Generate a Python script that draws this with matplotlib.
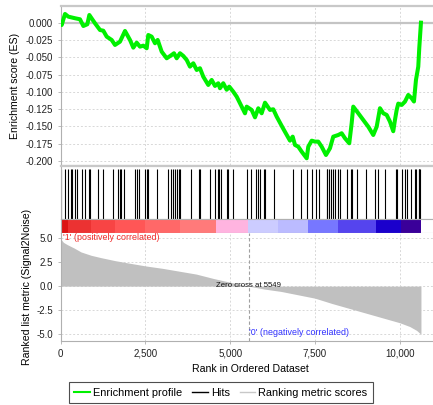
import matplotlib
matplotlib.use("Agg")
import matplotlib.pyplot as plt
from matplotlib.lines import Line2D
from matplotlib.ticker import FuncFormatter

plt.rcParams['font.family'] = ['Liberation Sans', 'DejaVu Sans']

# running enrichment score (rank, ES)
es_rank = [0, 29, 127, 225, 422, 569, 668, 786, 845, 1012, 1159, 1257, 1357, 1504,
           1602, 1749, 1897, 2044, 2142, 2242, 2339, 2437, 2537, 2584, 2684, 2782,
           2861, 2979, 3127, 3274, 3342, 3422, 3519, 3617, 3717, 3814, 3912, 4012,
           4109, 4206, 4354, 4454, 4552, 4649, 4699, 4796, 4897, 4973, 5091, 5192,
           5339, 5437, 5487, 5634, 5732, 5829, 5929, 6027, 6174, 6271, 6372, 6566,
           6764, 6844, 6912, 7009, 7109, 7257, 7304, 7404, 7501, 7599, 7699, 7826,
           7944, 8041, 8189, 8289, 8386, 8513, 8584, 8631, 8779, 8926, 9074, 9221,
           9322, 9419, 9516, 9617, 9714, 9811, 9861, 9912, 9959, 10059, 10156,
           10254, 10354, 10422, 10481, 10549, 10578, 10628]
es_value = [0.0, -0.0034, 0.0126, 0.0087, 0.0064, 0.0049, -0.0048, -0.0023, 0.0111,
            -0.0009, -0.0106, -0.0116, -0.0202, -0.025, -0.0322, -0.0275, -0.012,
            -0.025, -0.0361, -0.0289, -0.0347, -0.0332, -0.037, -0.0178, -0.0202,
            -0.0298, -0.025, -0.0419, -0.0515, -0.0467, -0.0442, -0.0515, -0.0442,
            -0.0481, -0.0539, -0.0636, -0.0587, -0.0684, -0.0659, -0.0781, -0.0901,
            -0.0828, -0.0915, -0.0876, -0.0948, -0.0876, -0.097, -0.0925, -0.0998,
            -0.107, -0.1214, -0.1311, -0.1214, -0.1262, -0.1369, -0.1238, -0.131,
            -0.1157, -0.1262, -0.1252, -0.1359, -0.1534, -0.1706, -0.1648, -0.1768,
            -0.1793, -0.1865, -0.1961, -0.1793, -0.1706, -0.172, -0.172, -0.1793,
            -0.1913, -0.1816, -0.1648, -0.1624, -0.1599, -0.1671, -0.1744, -0.1454,
            -0.1214, -0.131, -0.1407, -0.1504, -0.1624, -0.1504, -0.1237, -0.131,
            -0.1334, -0.1431, -0.157, -0.1407, -0.1262, -0.117, -0.119, -0.1142,
            -0.1045, -0.1093, -0.114, -0.0828, -0.0636, -0.037, 0.0]

# positions of the gene set members in the ranked list
hits = [18, 136, 215, 295, 333, 431, 481, 637, 708, 826, 855, 1091, 1239, 1534,
        1699, 1740, 1770, 1858, 2192, 2251, 2301, 2478, 2546, 2584, 2832, 3174,
        3263, 3304, 3363, 3431, 3481, 3528, 3835, 4071, 4118, 4413, 4543, 4640,
        4678, 4720, 4897, 4935, 5091, 5496, 5605, 5752, 5820, 5879, 5997, 6035,
        6292, 6861, 7097, 7274, 7413, 7540, 7611, 7847, 7870, 7906, 7982, 8032,
        8100, 8180, 8239, 8437, 8555, 8602, 8749, 8997, 9263, 9360, 9558, 9882,
        9929, 10068, 10147, 10215, 10324, 10442, 10481, 10560, 10580, 10599]

# ranked list metric (signal to noise), sampled along the list
metric_rank = [0, 80, 200, 400, 600, 900, 1200, 1600, 2000, 2500, 3000, 3500, 4000,
               4500, 5000, 5549, 6000, 6500, 7000, 7500, 8000, 8500, 9000, 9500,
               10000, 10300, 10500, 10628]
metric_value = [4.9, 4.55, 4.3, 3.95, 3.55, 3.2, 2.95, 2.65, 2.4, 2.1, 1.85, 1.55,
                1.25, 0.8, 0.4, 0.0, -0.3, -0.55, -0.9, -1.25, -1.8, -2.3, -2.8,
                -3.3, -3.8, -4.2, -4.6, -5.0]
zero_cross = 5549

# heat map strip under the hits
band_edges = [0, 50, 215, 894, 1600, 2487, 3520, 4580, 5525, 6410, 7295, 8180,
              9300, 10040, 10628]
band_colors = ['#c80000', '#dc1414', '#ec3232', '#f84444', '#ff5656', '#ff6868',
               '#ff7a7a', '#ffb4e0', '#ccccff', '#bbbbff', '#7777ff', '#5544ee',
               '#1a00cc', '#3a0099']

es_ticks = [0.0, -0.025, -0.05, -0.075, -0.1, -0.125, -0.15, -0.175, -0.2]
metric_ticks = [5.0, 2.5, 0.0, -2.5, -5.0]
rank_ticks = [0, 2500, 5000, 7500, 10000]

W, H = 433, 405
fig = plt.figure(figsize=(W / 100, H / 100), dpi=100)
left = 60.7 / W
width = (440 - 60.7) / W
xmax = 11190

def fy(top, bottom):
    return [left, 1 - bottom / H, width, (bottom - top) / H]

ax_es = fig.add_axes(fy(6, 165))
ax_hit = fig.add_axes(fy(166, 219.3))
ax_bar = fig.add_axes(fy(219.3, 232.7))
ax_m = fig.add_axes(fy(232.7, 341))

spine_col = '#b0b0b0'
grid_kw = dict(color='#d8d8d8', linestyle=(0, (2, 2)), linewidth=0.7)

for ax in (ax_es, ax_hit, ax_bar, ax_m):
    ax.set_xlim(0, xmax)
    for s in ax.spines.values():
        s.set_color(spine_col)
        s.set_linewidth(0.8)
    ax.tick_params(labelsize=7, colors='#222222', length=2, width=0.6)
    ax.tick_params(axis='both', color=spine_col)

# ES panel
ax_es.set_ylim(-0.2058, 0.0241)
ax_es.set_yticks(es_ticks)
ax_es.yaxis.set_major_formatter(FuncFormatter(lambda v, p: '%.3f' % v))
ax_es.set_xticks(rank_ticks)
ax_es.tick_params(axis='x', length=0, labelbottom=False)
ax_es.grid(True, **grid_kw)
ax_es.axhline(0, color='#c4c4c4', lw=1.6, zorder=2)
ax_es.spines['top'].set_linewidth(1.6)
ax_es.spines['top'].set_color('#c8c8c8')
ax_es.plot(es_rank, es_value, color='#00f000', lw=2.9, zorder=3,
           solid_joinstyle='round')
ax_es.set_ylabel('Enrichment score (ES)', fontsize=7.6, labelpad=4)

# hits panel
ax_hit.set_ylim(0, 1)
ax_hit.vlines(hits, 0, 0.95, color='black', lw=0.8)
ax_hit.set_xticks([])
ax_hit.set_yticks([])
ax_hit.spines['top'].set_linewidth(1.6)
ax_hit.spines['top'].set_color('#c8c8c8')

# colour strip
ax_bar.set_ylim(0, 1)
ax_bar.bar(band_edges[:-1], 1,
           width=[b - a for a, b in zip(band_edges[:-1], band_edges[1:])],
           align='edge', color=band_colors, linewidth=0)
ax_bar.set_xticks([])
ax_bar.set_yticks([])

# ranked metric panel
ax_m.set_ylim(-5.7, 5.55)
ax_m.fill_between(metric_rank, 0, metric_value, color='#c0c0c0', lw=0, zorder=2)
ax_m.set_yticks(metric_ticks)
ax_m.yaxis.set_major_formatter(FuncFormatter(lambda v, p: '%.1f' % v))
ax_m.set_xticks(rank_ticks)
ax_m.xaxis.set_major_formatter(FuncFormatter(lambda v, p: '{:,.0f}'.format(v)))
ax_m.grid(True, **grid_kw)
ax_m.spines['top'].set_visible(False)
ax_m.axvline(zero_cross, color='#a0a0a0', lw=0.8, linestyle=(0, (3, 2)), zorder=3)
ax_m.text(zero_cross, 0.1, 'Zero cross at %d' % zero_cross, fontsize=5.6,
          ha='center', va='center', color='#111111', zorder=4)
ax_m.text(70, 5.07, "'1' (positively correlated)", fontsize=6.4,
          color='#f02a2a', ha='left', va='center')
ax_m.text(zero_cross + 20, -4.78, "'0' (negatively correlated)", fontsize=6.4,
          color='#3030ff', ha='left', va='center')
ax_m.set_ylabel('Ranked list metric (Signal2Noise)', fontsize=7.6, labelpad=3)
ax_m.set_xlabel('Rank in Ordered Dataset', fontsize=7.6, labelpad=4)

handles = [Line2D([], [], color='#00f000', lw=1.5),
           Line2D([], [], color='black', lw=1.0),
           Line2D([], [], color='#c8c8c8', lw=1.0)]
labels = ['Enrichment profile', 'Hits', 'Ranking metric scores']
leg = fig.legend(handles, labels, loc='lower left', bbox_to_anchor=(69 / W, 2 / H),
                 ncol=3, fontsize=7.9, frameon=True, fancybox=False,
                 handlelength=1.4, handletextpad=0.3, columnspacing=0.9,
                 borderpad=0.5, borderaxespad=0)
leg.get_frame().set_edgecolor('#222222')
leg.get_frame().set_linewidth(0.8)

fig.savefig('out.png', dpi=100)
